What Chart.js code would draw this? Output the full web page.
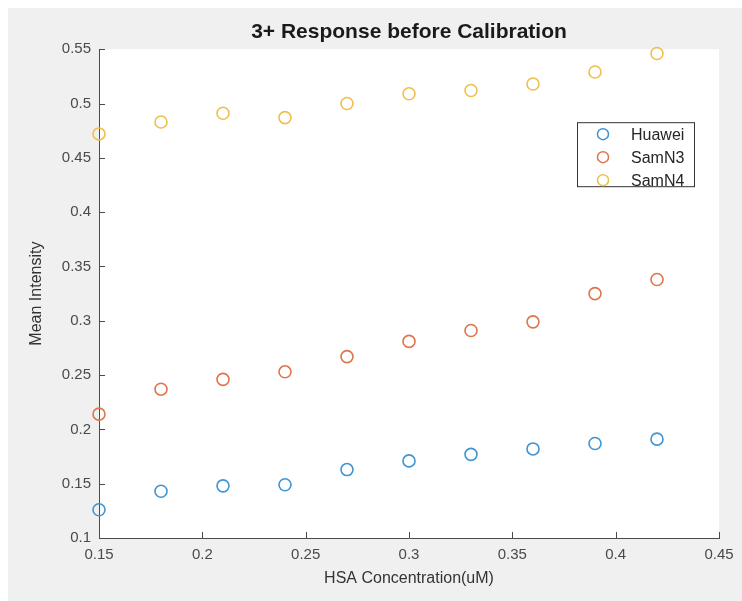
<!DOCTYPE html>
<html>
<head>
<meta charset="utf-8">
<script src="https://cdn.jsdelivr.net/npm/chart.js@4/dist/chart.umd.min.js"></script>
<style>
  html, body { margin: 0; padding: 0; background: #ffffff; }
  #wrap { position: absolute; left: 8px; top: 8px; width: 734px; height: 593px; background: #f0f0f0; }
  canvas { display: block; }
</style>
</head>
<body>
<div id="wrap"><canvas id="scatter" width="734" height="593"></canvas></div>
<script>
// values
var concentrations = [0.15, 0.18, 0.21, 0.24, 0.27, 0.30, 0.33, 0.36, 0.39, 0.42];
var huawei = [0.126, 0.143, 0.148, 0.149, 0.163, 0.171, 0.177, 0.182, 0.187, 0.191];
var samN3  = [0.214, 0.237, 0.246, 0.253, 0.267, 0.281, 0.291, 0.299, 0.325, 0.338];
var samN4  = [0.472, 0.483, 0.491, 0.487, 0.500, 0.509, 0.512, 0.518, 0.529, 0.546];
var seriesNames = ["Huawei", "SamN3", "SamN4"];
var xTicks = [0.15, 0.2, 0.25, 0.3, 0.35, 0.4, 0.45];
var yTicks = [0.1, 0.15, 0.2, 0.25, 0.3, 0.35, 0.4, 0.45, 0.5, 0.55];

var colors = ["#3f94d4", "#e0744a", "#efbf4c"];
var fontFamily = "'Liberation Sans', Arial, sans-serif";
var axisColor = "#4a4a4a";

function toPoints(values) {
  var pts = [];
  for (i = 0; i < values.length; i++) {
    pts.push({ x: concentrations[i], y: values[i] });
  }
  return pts;
}

function makeDataset(name, values, color) {
  return {
    label: name,
    data: toPoints(values),
    borderColor: color,
    backgroundColor: "rgba(0,0,0,0)",
    pointStyle: "circle",
    pointRadius: 6,
    pointBorderWidth: 1.6,
    pointHoverRadius: 6,
    showLine: false,
    clip: false
  };
}

function fixedTicks(list) {
  return function(scale) {
    scale.ticks = list.map(function(v) { return { value: v }; });
  };
}

function fmt(v) {
  return String(+Number(v).toFixed(2));
}

// white plot area, inward ticks and the legend box inside the axes
var matlabLook = {
  id: "matlabLook",
  beforeDraw: function(chart) {
    var a = chart.chartArea, ctx = chart.ctx;
    ctx.save();
    ctx.fillStyle = "#ffffff";
    ctx.fillRect(a.left, a.top, a.right - a.left, a.bottom - a.top);
    ctx.restore();
  },
  afterDraw: function(chart) {
    var a = chart.chartArea, ctx = chart.ctx;
    var xs = chart.scales.x, ys = chart.scales.y;
    ctx.save();
    ctx.strokeStyle = axisColor;
    ctx.lineWidth = 1;
    ctx.beginPath();
    xTicks.forEach(function(v) {
      var px = Math.round(xs.getPixelForValue(v)) + 0.5;
      ctx.moveTo(px, a.bottom);
      ctx.lineTo(px, a.bottom - 6);
    });
    yTicks.forEach(function(v) {
      var py = Math.round(ys.getPixelForValue(v)) + 0.5;
      ctx.moveTo(a.left, py);
      ctx.lineTo(a.left + 6, py);
    });
    ctx.stroke();

    // legend
    var bx = a.right - 142, by = a.top + 73, bw = 117, bh = 64;
    ctx.fillStyle = "#ffffff";
    ctx.fillRect(bx, by, bw, bh);
    ctx.strokeStyle = "#333333";
    ctx.strokeRect(bx + 0.5, by + 0.5, bw, bh);
    ctx.font = "16px " + fontFamily;
    ctx.textBaseline = "middle";
    ctx.textAlign = "left";
    chart.data.datasets.forEach(function(ds, k) {
      var cy = by + 12 + k * 23;
      ctx.beginPath();
      ctx.strokeStyle = ds.borderColor;
      ctx.lineWidth = 1.5;
      ctx.arc(bx + 26, cy, 5.5, 0, Math.PI * 2);
      ctx.stroke();
      ctx.fillStyle = "#262626";
      ctx.fillText(ds.label, bx + 54, cy + 1);
    });
    ctx.restore();
  }
};

var ctx = document.getElementById("scatter");
new Chart(ctx, {
  type: "scatter",
  data: {
    datasets: [
      makeDataset(seriesNames[0], huawei, colors[0]),
      makeDataset(seriesNames[1], samN3, colors[1]),
      makeDataset(seriesNames[2], samN4, colors[2])
    ]
  },
  options: {
    responsive: false,
    animation: false,
    layout: { padding: { left: 0, right: 23, top: 0, bottom: 0 } },
    plugins: {
      legend: { display: false },
      tooltip: { enabled: false },
      title: {
        display: true,
        fullSize: false,
        text: "3+ Response before Calibration",
        color: "#1a1a1a",
        font: { family: fontFamily, size: 21, weight: "bold" },
        padding: { top: 12, bottom: 4 }
      }
    },
    scales: {
      x: {
        type: "linear",
        min: 0.15,
        max: 0.45,
        afterBuildTicks: fixedTicks(xTicks),
        afterFit: function(scale) { scale.height = 63; },
        grid: { display: false, drawTicks: false },
        border: { display: true, color: axisColor, width: 1 },
        ticks: {
          color: "#4a4a4a",
          font: { family: fontFamily, size: 15 },
          padding: 8,
          maxRotation: 0,
          callback: fmt
        },
        title: {
          display: true,
          text: "HSA Concentration(uM)",
          color: "#333333",
          font: { family: fontFamily, size: 16 },
          padding: { top: 0, bottom: 13 }
        }
      },
      y: {
        type: "linear",
        min: 0.1,
        max: 0.55,
        afterBuildTicks: fixedTicks(yTicks),
        afterFit: function(scale) { scale.width = 91; },
        grid: { display: false, drawTicks: false },
        border: { display: true, color: axisColor, width: 1 },
        ticks: {
          color: "#4a4a4a",
          font: { family: fontFamily, size: 15 },
          padding: 8,
          callback: fmt
        },
        title: {
          display: true,
          text: "Mean Intensity",
          color: "#333333",
          font: { family: fontFamily, size: 16 },
          padding: { top: 19, bottom: 0 }
        }
      }
    }
  },
  plugins: [matlabLook]
});
</script>
</body>
</html>
